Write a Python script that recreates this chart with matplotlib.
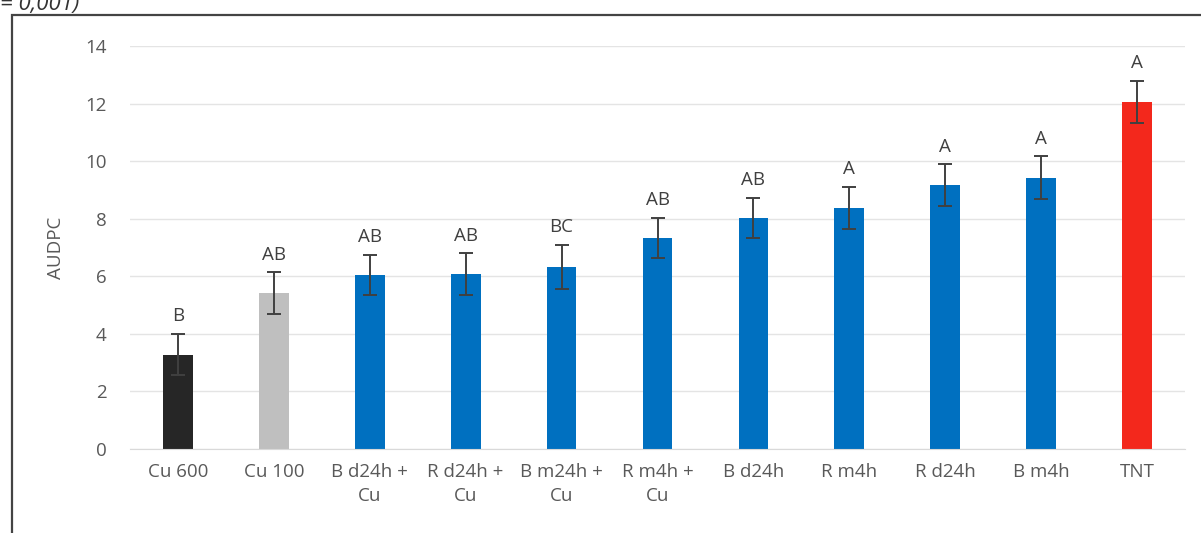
import matplotlib.pyplot as plt
from matplotlib.patches import Rectangle

treatments = ["Cu 600", "Cu 100", "B d24h +\nCu", "R d24h +\nCu", "B m24h +\nCu",
              "R m4h +\nCu", "B d24h", "R m4h", "R d24h", "B m4h", "TNT"]
audpc = [3.28, 5.42, 6.04, 6.08, 6.33, 7.33, 8.03, 8.38, 9.17, 9.43, 12.06]
errors = [0.72, 0.72, 0.70, 0.72, 0.76, 0.70, 0.70, 0.73, 0.72, 0.74, 0.72]
groups = ["B", "AB", "AB", "AB", "BC", "AB", "AB", "A", "A", "A", "A"]
colors = ["#262626", "#bfbfbf"] + ["#0070c0"] * 8 + ["#f3281c"]

TEXT = "#595959"
plt.rcParams["font.family"] = ["Open Sans", "DejaVu Sans"]

fig = plt.figure(figsize=(12.01, 5.33), dpi=100)
ax = fig.add_axes([130 / 1201, 84 / 533, 1055 / 1201, 403 / 533])

x = range(len(treatments))
ax.bar(x, audpc, width=0.31, color=colors, zorder=2)
ax.errorbar(x, audpc, yerr=errors, fmt="none", ecolor="#404040",
            elinewidth=1.4, capsize=5, capthick=1.4, zorder=3)
for xi, v, e, g in zip(x, audpc, errors, groups):
    ax.text(xi, v + e + 0.3, g, ha="center", va="bottom",
            fontsize=13.5, color="#404040")

ax.set_xlim(-0.5, len(treatments) - 0.5)
ax.set_ylim(0, 14)
ax.set_yticks(range(0, 15, 2))
ax.set_xticks(list(x))
ax.set_xticklabels(treatments, fontsize=13.5, color=TEXT, linespacing=1.45)
ax.tick_params(axis="y", labelsize=13.5, labelcolor=TEXT, length=0, pad=17)
ax.tick_params(axis="x", length=0, pad=10)
ax.yaxis.grid(True, color="#e4e4e4", linewidth=1)
ax.set_axisbelow(True)
for s in ax.spines.values():
    s.set_visible(False)
ax.spines["bottom"].set_visible(True)
ax.spines["bottom"].set_color("#d9d9d9")
ax.set_ylabel("AUDPC", fontsize=13.5, color=TEXT, labelpad=14)

# frame around the chart, open at the bottom and right
fig.add_artist(Rectangle((12 / 1201, -0.05), 1.2, 1 - 15 / 533 + 0.05,
                         transform=fig.transFigure, fill=False,
                         edgecolor="#444444", linewidth=1.6))
fig.text(0.0, 1.012, "= 0,001)", fontsize=16, style="italic",
         color="#333333", ha="left", va="top")

fig.savefig("out.png", dpi=100, facecolor="white")
